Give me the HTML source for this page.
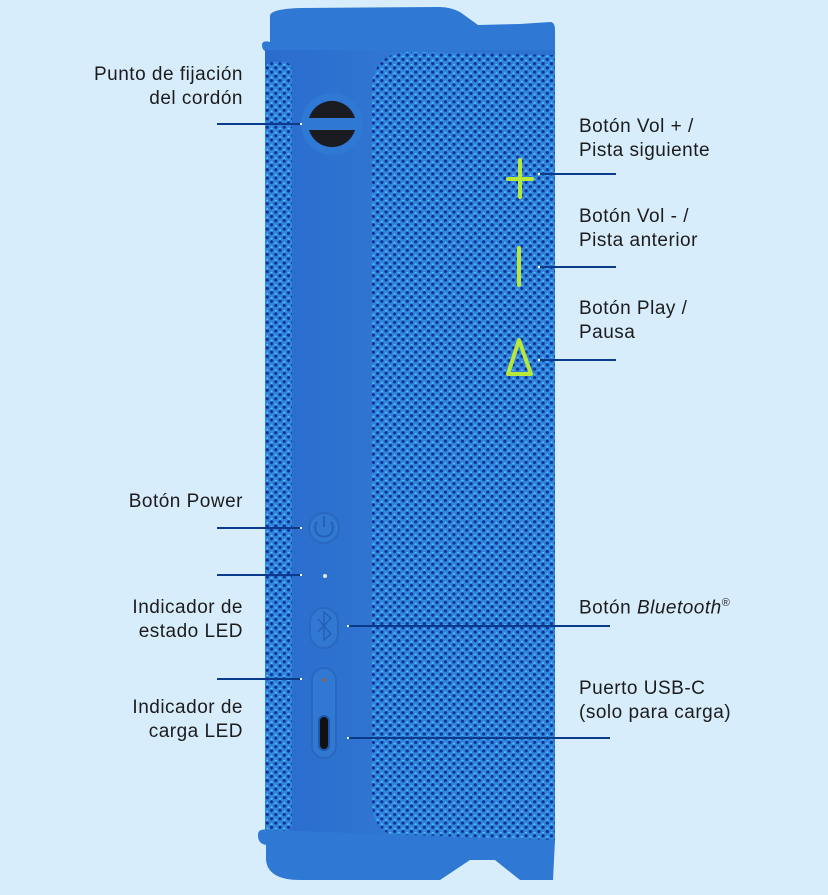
<!DOCTYPE html>
<html><head><meta charset="utf-8">
<style>
html,body{margin:0;padding:0}
body{width:828px;height:895px;background:#d8edfb;position:relative;overflow:hidden;font-family:"Liberation Sans",sans-serif;color:#1c1c1c}
.l{position:absolute;font-size:19px;line-height:24px;white-space:nowrap;letter-spacing:0.5px}
.r{text-align:right}
</style></head><body>
<svg width="828" height="895" style="position:absolute;left:0;top:0">
<defs>
<pattern id="g" width="6" height="6" patternUnits="userSpaceOnUse" patternTransform="rotate(45)">
<rect width="6" height="6" fill="#2f86dc"/>
<circle cx="3" cy="3" r="1.6" fill="#12309a"/>
<circle cx="0.8" cy="0.8" r="1" fill="#55c8f2"/>
</pattern>
<linearGradient id="b" x1="0" x2="1">
<stop offset="0" stop-color="#2a6ccd"/><stop offset="0.5" stop-color="#3178d2"/><stop offset="1" stop-color="#2b72d0"/>
</linearGradient>
</defs>
<path d="M270 16 Q270 9 300 8 L440 7 Q450 7 460 12 L478 25 L520 24 L550 22 Q555 22 555 30 L555 70 L270 70 Z" fill="#2f78d3"/>
<path d="M262 45 Q262 40 270 42 L270 52 Q262 52 262 45Z" fill="#2f78d3"/>
<rect x="265" y="50" width="290" height="790" fill="url(#b)"/>
<rect x="265" y="62" width="27" height="770" rx="8" fill="url(#g)"/>
<path d="M410 52 L555 55 L555 840 L410 838 Q372 838 372 800 L372 90 Q372 52 410 52Z" fill="url(#g)"/>
<path d="M266 830 L555 840 L553 880 L520 880 L495 860 L470 860 L440 880 L300 880 Q268 880 266 860 Z" fill="#2f78d3"/>
<path d="M258 835 Q258 828 268 830 L268 845 Q258 845 258 835Z" fill="#2f78d3"/>
<circle cx="332" cy="124" r="31" fill="#2f79d4"/>
<path d="M309 118 A24 24 0 0 1 355 118 Z" fill="#1b1b22"/>
<path d="M309 130 A24 24 0 0 0 355 130 Z" fill="#1b1b22"/>
<circle cx="324" cy="528" r="15" fill="#3078d2" stroke="#2a68c0" stroke-width="2"/>
<path d="M317 522 A9 9 0 1 0 331 522" fill="none" stroke="#2560b8" stroke-width="2"/>
<line x1="324" y1="516" x2="324" y2="527" stroke="#2560b8" stroke-width="2"/>
<circle cx="325" cy="576" r="2" fill="#e8e8e8"/>
<rect x="310" y="608" width="28" height="40" rx="14" fill="#3078d2" stroke="#2a68c0" stroke-width="2"/>
<path d="M318 619 L331 634 L324 640 L324 612 L331 618 L318 632" fill="none" stroke="#2560b8" stroke-width="1.5"/>
<rect x="312" y="668" width="24" height="90" rx="12" fill="#3078d2" stroke="#2a68c0" stroke-width="2"/>
<circle cx="324" cy="680" r="1.8" fill="#a06040"/>
<rect x="319" y="716" width="10" height="34" rx="5" fill="#111" stroke="#1e58b0" stroke-width="2"/>
<g stroke="#b8e83a" stroke-width="4" stroke-linecap="round" fill="none">
<line x1="520" y1="160" x2="520" y2="197"/><line x1="508" y1="179" x2="532" y2="179"/>
<line x1="519" y1="248" x2="519" y2="285"/>
<path d="M519 340 L508 374 L531 374 Z" stroke-linejoin="round"/>
</g>
<g stroke="#0b3a8c" stroke-width="2">
<line x1="217" y1="124" x2="300" y2="124"/>
<line x1="540" y1="174" x2="616" y2="174"/>
<line x1="540" y1="267" x2="616" y2="267"/>
<line x1="540" y1="360" x2="616" y2="360"/>
<line x1="217" y1="528" x2="300" y2="528"/>
<line x1="217" y1="575" x2="300" y2="575"/>
<line x1="349" y1="626" x2="610" y2="626"/>
<line x1="217" y1="679" x2="300" y2="679"/>
<line x1="349" y1="738" x2="610" y2="738"/>
</g>
<g stroke="#fff" stroke-width="2">
<line x1="538" y1="174" x2="540" y2="174"/><line x1="538" y1="267" x2="540" y2="267"/><line x1="538" y1="360" x2="540" y2="360"/>
<line x1="347" y1="626" x2="349" y2="626"/><line x1="347" y1="738" x2="349" y2="738"/>
<line x1="300" y1="124" x2="302" y2="124"/><line x1="300" y1="528" x2="302" y2="528"/><line x1="300" y1="575" x2="302" y2="575"/><line x1="300" y1="679" x2="302" y2="679"/>
</g>
</svg>
<div class="l r" style="right:585px;top:63px">Punto de fijación<br>del cordón</div>
<div class="l" style="left:579px;top:115px">Botón Vol + /<br>Pista siguiente</div>
<div class="l" style="left:579px;top:205px">Botón Vol - /<br>Pista anterior</div>
<div class="l" style="left:579px;top:297px">Botón Play /<br>Pausa</div>
<div class="l r" style="right:585px;top:490px">Botón Power</div>
<div class="l r" style="right:585px;top:596px">Indicador de<br>estado LED</div>
<div class="l r" style="right:585px;top:696px">Indicador de<br>carga LED</div>
<div class="l" style="left:579px;top:591px">Botón <i>Bluetooth</i><sup style="font-size:11px">®</sup></div>
<div class="l" style="left:579px;top:677px">Puerto USB-C<br>(solo para carga)</div>
</body></html>
